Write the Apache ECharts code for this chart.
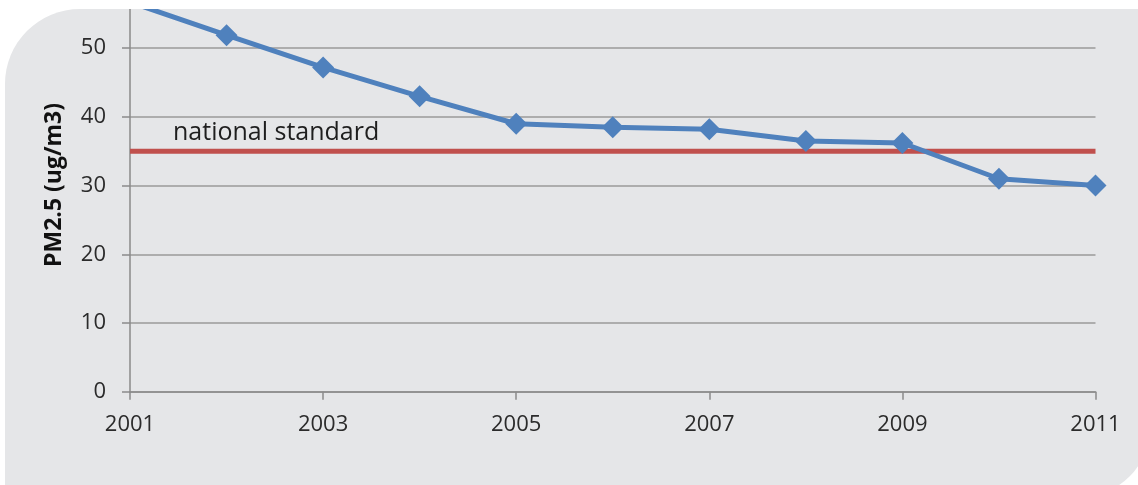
<!DOCTYPE html>
<html>
<head>
<meta charset="utf-8">
<script src="https://cdn.jsdelivr.net/npm/echarts@6/dist/echarts.min.js"></script>
<style>
  html, body { margin: 0; padding: 0; background: #ffffff; width: 1138px; height: 485px; overflow: hidden; }
  #panel { position: absolute; left: 5px; top: 9px; width: 1145px; height: 488px;
           border-radius: 75px 0 70px 0; overflow: hidden; background: #e5e6e8; }
  #chart { position: absolute; left: -5px; top: -49px; width: 1138px; height: 534px; }
</style>
</head>
<body>
<div id="panel"><div id="chart"></div></div>
<script>
const years = ['2001','2002','2003','2004','2005','2006','2007','2008','2009','2010','2011'];
const pm25 = [56.7, 51.9, 47.2, 43.0, 39.0, 38.5, 38.2, 36.5, 36.2, 31.0, 30.0];
const standardValue = 35;
const standardLabel = 'national standard';
const yTitle = 'PM2.5 (ug/m3)';
const yTicks = [0, 10, 20, 30, 40, 50];

const standard = years.map(() => standardValue);
// the first point lies above the visible plot area, so its marker is clipped away
const pm25Data = pm25.map((v, i) => i === 0 ? { value: v, symbol: 'none' } : v);
const font = '"Open Sans", Lato, sans-serif';
const chart = echarts.init(document.getElementById('chart'), null, { renderer: 'canvas' });
chart.setOption({
  animation: false,
  backgroundColor: 'transparent',
  grid: { left: 130, right: 42.5, top: 19.5, bottom: 102.3, containLabel: false },
  xAxis: {
    type: 'category', data: years, boundaryGap: false,
    axisLine: { show: true, lineStyle: { color: '#8a8a8a', width: 1.5 } },
    axisTick: { show: true, interval: 1, length: 8, lineStyle: { color: '#8a8a8a', width: 1.5 } },
    axisLabel: { interval: 1, margin: 22, fontSize: 22, fontFamily: font, color: '#2b2b2b' },
    splitLine: { show: false }
  },
  yAxis: {
    type: 'value', min: 0, max: 60, interval: 10,
    axisLine: { show: true, lineStyle: { color: '#8a8a8a', width: 1.5 } },
    axisTick: { show: true, length: 8, lineStyle: { color: '#8a8a8a', width: 1.5 } },
    axisLabel: { margin: 24, fontSize: 22, fontFamily: font, color: '#2b2b2b',
      formatter: v => yTicks.includes(v) ? String(v) : '' },
    splitLine: { show: true, lineStyle: { color: '#9a9a9a', width: 1.5 } }
  },
  series: [
    {
      name: standardLabel, type: 'line', data: standard, symbol: 'none',
      lineStyle: { color: '#c0504d', width: 5 }, z: 2, silent: true
    },
    {
      name: 'PM2.5', type: 'line', data: pm25Data,
      symbol: 'diamond', symbolSize: 22,
      itemStyle: { color: '#4f81bd' },
      lineStyle: { color: '#4f81bd', width: 5 }, z: 3
    }
  ],
  graphic: [
    { type: 'text', left: 173, top: 160, style: { text: standardLabel, fontSize: 25, fontFamily: font, fill: '#1e1e1e' } },
    { type: 'text', x: 54, y: 225, rotation: Math.PI / 2,
      style: { text: yTitle, fontSize: 23, fontWeight: 'bold', fontFamily: font, fill: '#111', align: 'center', verticalAlign: 'middle' } }
  ]
});
</script>
</body>
</html>
